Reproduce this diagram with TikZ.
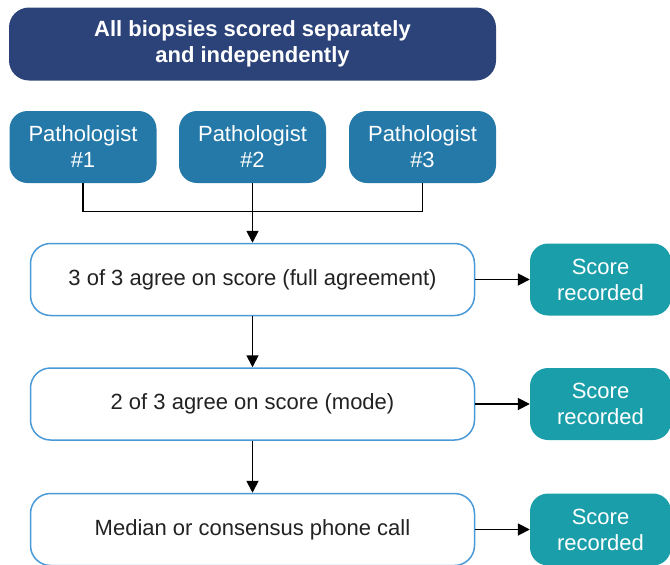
\documentclass[tikz,border=0pt]{standalone}
\usepackage{fontspec}
\setmainfont{Liberation Sans}
\usetikzlibrary{arrows.meta}
\definecolor{navy}{HTML}{2C437A}
\definecolor{pathblue}{HTML}{2479A8}
\definecolor{tealbox}{HTML}{1A9FAA}
\definecolor{edgeblue}{HTML}{4A9AD8}
\definecolor{bodytext}{HTML}{222222}
\begin{document}
\begin{tikzpicture}[x=1pt,y=-1pt,
  every node/.style={font=\fontsize{22}{26}\selectfont, align=center, inner sep=0pt},
  banner/.style={fill=navy, text=white, rounded corners=20pt, font=\fontsize{22}{26}\selectfont\bfseries,
                 minimum width=487pt, minimum height=73pt},
  pathbox/.style={fill=pathblue, text=white, rounded corners=18pt, minimum width=147pt, minimum height=72pt},
  stagebox/.style={draw=edgeblue, line width=1.5pt, fill=white, text=bodytext, rounded corners=20pt,
                   minimum width=444pt, minimum height=72pt},
  resultbox/.style={fill=tealbox, text=white, rounded corners=18pt, minimum width=141pt, minimum height=72pt},
  link/.style={draw=black, line width=1.8pt},
  flow/.style={link, -{Triangle[length=12pt,width=12pt]}}
]
\useasboundingbox (0,0) rectangle (670,565);

\node[banner] (top) at (252.5,44) {All biopsies scored separately\\and independently};

\node[pathbox] (p1) at (83,147) {Pathologist\\\#1};
\node[pathbox] (p2) at (252.5,147) {Pathologist\\\#2};
\node[pathbox] (p3) at (422.5,147) {Pathologist\\\#3};

\node[stagebox] (s1) at (252.5,279.5) {3 of 3 agree on score (full agreement)};
\node[stagebox] (s2) at (252.5,404) {2 of 3 agree on score (mode)};
\node[stagebox] (s3) at (252.5,529.5) {Median or consensus phone call};

\node[resultbox] (r1) at (600.5,279.5) {Score\\recorded};
\node[resultbox] (r2) at (600.5,404) {Score\\recorded};
\node[resultbox] (r3) at (600.5,529.5) {Score\\recorded};

% gather the three readings into one line
\coordinate (join) at (252.5,211.5);
\draw[link] (p1.south) |- (join) -| (p3.south);
\draw[flow] (p2.south) -- (s1.north);

\draw[flow] (s1.south) -- (s2.north);
\draw[flow] (s2.south) -- (s3.north);

\draw[flow] (s1.east) -- (r1.west);
\draw[flow] (s2.east) -- (r2.west);
\draw[flow] (s3.east) -- (r3.west);
\end{tikzpicture}
\end{document}
